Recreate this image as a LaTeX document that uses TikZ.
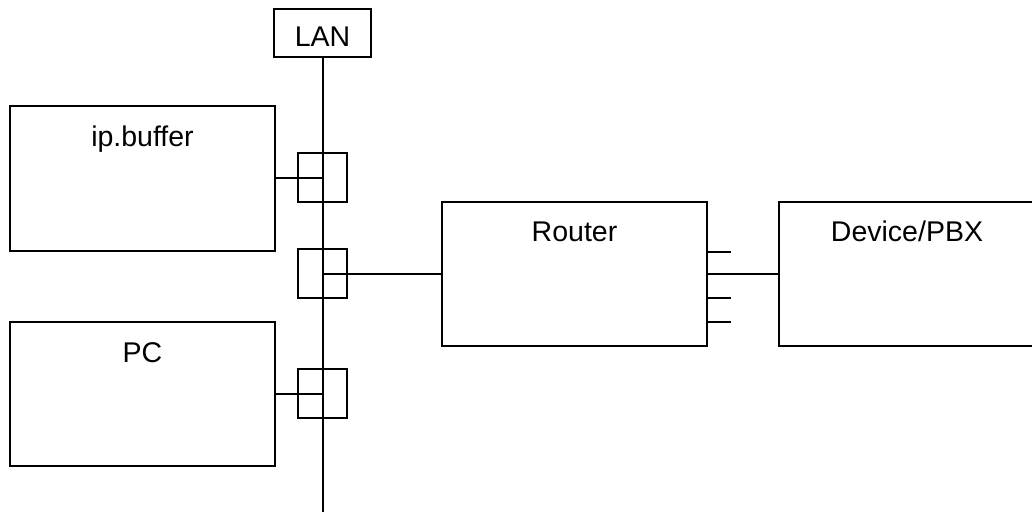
\documentclass[tikz,border=0pt]{standalone}
\usepackage{fontspec}
\setmainfont{Liberation Sans}
\usetikzlibrary{calc}
\begin{document}
\begin{tikzpicture}[x=1pt,y=-1pt,
  box/.style={draw=black,line width=2pt,fill=white,inner sep=0pt,outer sep=0pt,minimum width=265pt,minimum height=145pt},
  jack/.style={draw=black,line width=2pt,inner sep=0pt,outer sep=0pt,minimum width=49pt,minimum height=49pt},
  lanbox/.style={draw=black,line width=2pt,inner sep=0pt,outer sep=0pt,minimum width=97pt,minimum height=48pt},
  lbl/.style={anchor=base,inner sep=0pt,font=\fontsize{28.5}{34}\selectfont},
  wire/.style={draw=black,line width=2pt}]
\useasboundingbox (0,0) rectangle (1032,511);
% boxes
\node[lanbox] (lan) at (322.5,33) {};
\node[lbl] (lantext) at (322.5,47) {LAN};
\node[box] (ipb) at (142.5,178) {};
\node[lbl] (ipbtext) at ($(ipb.north)+(0,41)$) {ip.buffer};
\node[box,minimum height=144pt] (pc) at (142.5,394) {};
\node[lbl] (pctext) at ($(pc.north)+(0,40)$) {PC};
\node[box,minimum height=144pt] (router) at (574.5,274) {};
\node[lbl] (routertext) at ($(router.north)+(0,39)$) {Router};
\node[box,minimum height=144pt] (dev) at (911.5,274) {};
\node[lbl] (devtext) at (907,241) {Device/PBX};
% LAN bus
\coordinate (lanend) at (322.5,512);
\path[wire] (lan.south) -- (lanend);
% jacks
\node[jack] (j1) at (322.5,177.5) {};
\node[jack] (j2) at (322.5,273.5) {};
\node[jack] (j3) at (322.5,393.5) {};
% connections
\path[wire] (ipb.east) -- (ipb.east -| j1.center);
\path[wire] (router.west) -- (router.west -| j2.center);
\path[wire] (pc.east) -- (pc.east -| j3.center);
\path[wire] (router.east) -- (dev.west);
% router port stubs
\coordinate (s1) at ($(router.east)+(0,-22)$);
\coordinate (s1e) at ($(router.east)+(24,-22)$);
\coordinate (s2) at ($(router.east)+(0,24)$);
\coordinate (s2e) at ($(router.east)+(24,24)$);
\coordinate (s3) at ($(router.east)+(0,48)$);
\coordinate (s3e) at ($(router.east)+(24,48)$);
\path[wire] (s1) -- (s1e);
\path[wire] (s2) -- (s2e);
\path[wire] (s3) -- (s3e);
\end{tikzpicture}
\end{document}
